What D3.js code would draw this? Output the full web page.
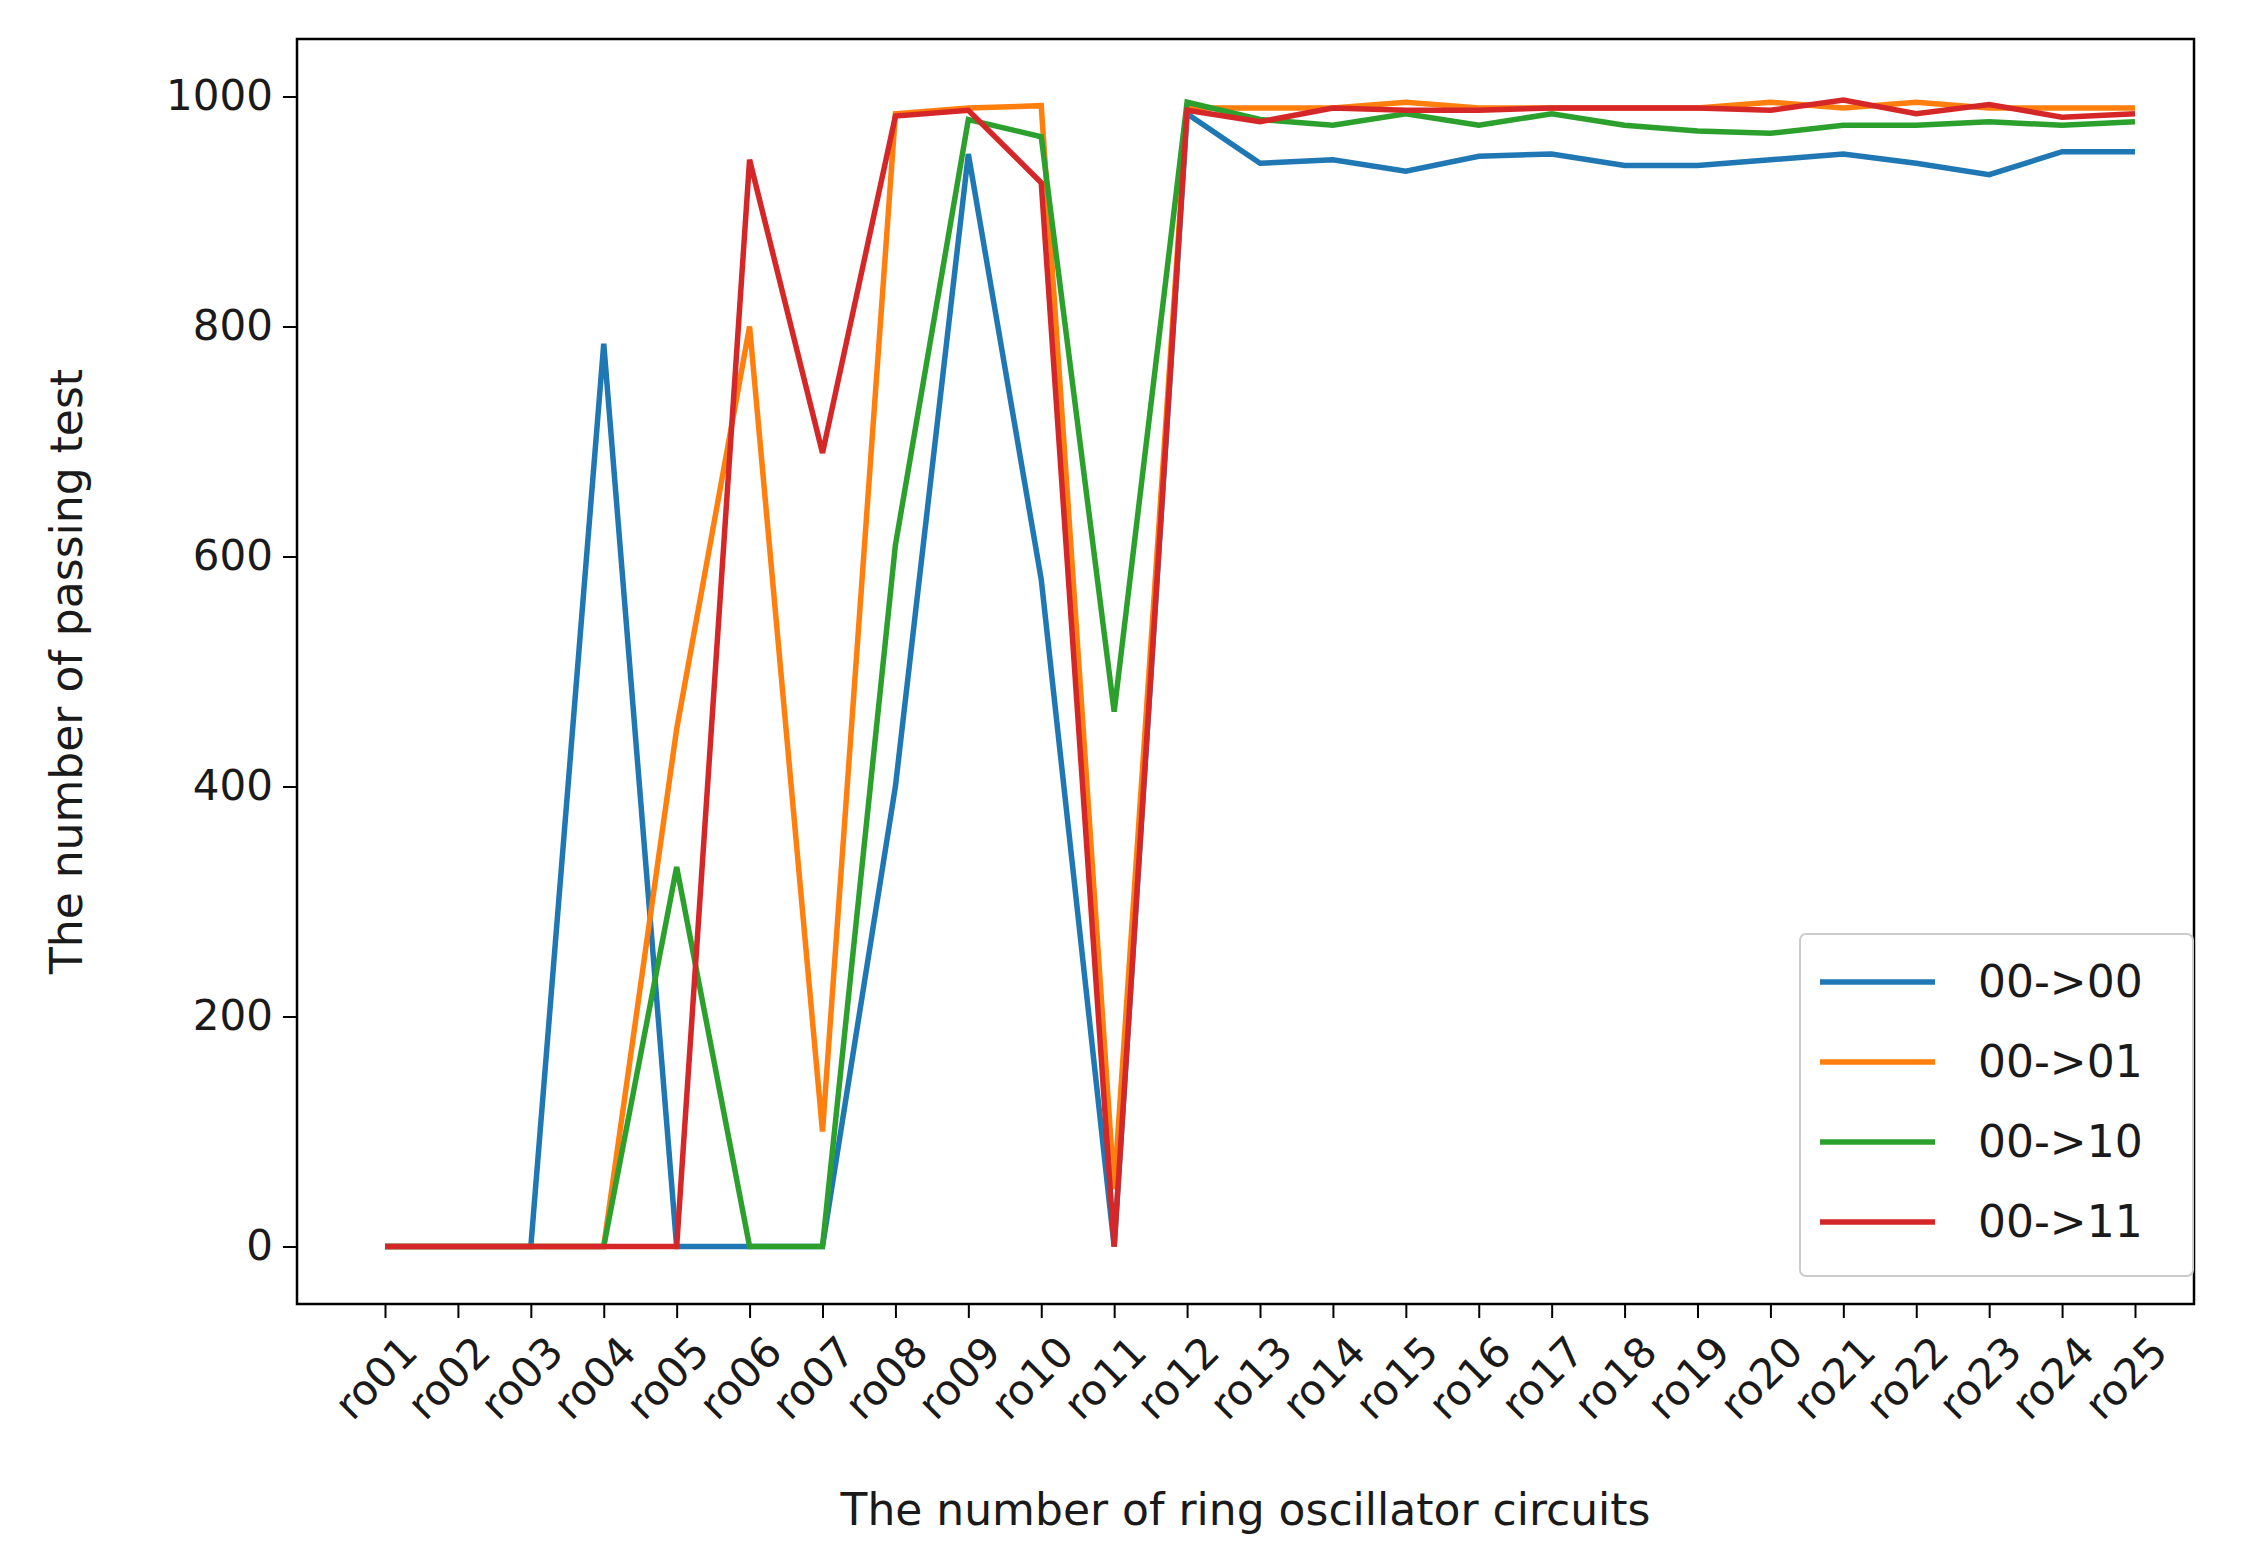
<!DOCTYPE html>
<html><head><meta charset="utf-8">
<script src="https://cdn.jsdelivr.net/npm/d3@7"></script>
<style>body{margin:0;background:#fff}text{font-family:"DejaVu Sans",sans-serif;fill:#1a1a1a}</style>
</head><body><div id="chart"></div>
<script>
const categories = d3.range(1, 26).map(i => 'ro' + String(i).padStart(2, '0'));
const s0000 = [0,0,0,785,0,0,0,400,950,580,0,985,942,945,935,948,950,940,940,945,950,942,932,952,952];
const s0001 = [0,0,0,0,450,800,100,985,990,992,50,990,990,990,995,990,990,990,990,995,990,995,990,990,990];
const s0010 = [0,0,0,0,330,0,0,610,980,965,465,995,980,975,985,975,985,975,970,968,975,975,978,975,978];
const s0011 = [0,0,0,0,0,945,690,983,988,925,0,988,978,990,988,988,990,990,990,988,997,985,993,982,985];
const seriesNames = ['00->00','00->01','00->10','00->11'];
const yTicks = [0,200,400,600,800,1000];

const series = [s0000, s0001, s0010, s0011];
const colors = ['#1f77b4','#ff7f0e','#2ca02c','#d62728'];
const W = 2241, H = 1552;
const m = {left: 297, right: 47, top: 39, bottom: 248};
const svg = d3.select('#chart').append('svg').attr('width', W).attr('height', H);

const x = d3.scalePoint().domain(categories).range([385, 2135]);
const y = d3.scaleLinear().domain([-50, 1050]).range([H - m.bottom, m.top]);

series.forEach((s, k) => {
  svg.append('path')
    .datum(s)
    .attr('fill', 'none')
    .attr('stroke', colors[k])
    .attr('stroke-width', 5.5)
    .attr('d', d3.line().x((d, i) => x(categories[i])).y(d => y(d)));
});

const xAxis = svg.append('g').attr('transform', `translate(0,${H - m.bottom})`)
  .call(d3.axisBottom(x).tickSize(14));
xAxis.select('.domain').remove();
xAxis.selectAll('line').attr('stroke-width', 2);
xAxis.selectAll('text').attr('font-size', 42)
  .attr('x', 0).attr('y', 0).attr('dy', '0.35em')
  .attr('text-anchor', 'end')
  .attr('transform', 'translate(24,40) rotate(-45)');

const yAxis = svg.append('g').attr('transform', `translate(${m.left},0)`)
  .call(d3.axisLeft(y).tickValues(yTicks).tickFormat(d3.format('d')).tickSize(14).tickPadding(10));
yAxis.select('.domain').remove();
yAxis.selectAll('line').attr('stroke-width', 2);
yAxis.selectAll('text').attr('font-size', 42);

svg.append('rect').attr('x', m.left).attr('y', m.top)
  .attr('width', W - m.left - m.right).attr('height', H - m.top - m.bottom)
  .attr('fill', 'none').attr('stroke', '#000').attr('stroke-width', 2.5);

svg.append('text').attr('x', (m.left + W - m.right) / 2).attr('y', 1525)
  .attr('text-anchor', 'middle').attr('font-size', 44).text('The number of ring oscillator circuits');
svg.append('text').attr('transform', `translate(82,${(m.top + H - m.bottom) / 2}) rotate(-90)`)
  .attr('text-anchor', 'middle').attr('font-size', 44).text('The number of passing test');

const lg = svg.append('g').attr('transform', 'translate(1800,934)');
lg.append('rect').attr('width', 393).attr('height', 342).attr('rx', 6)
  .attr('fill', '#fff').attr('stroke', '#ccc').attr('stroke-width', 2);
seriesNames.forEach((n, k) => {
  const yy = 48 + k * 80;
  lg.append('line').attr('x1', 20).attr('x2', 135).attr('y1', yy).attr('y2', yy)
    .attr('stroke', colors[k]).attr('stroke-width', 5.5);
  lg.append('text').attr('x', 178).attr('y', yy).attr('dy', '0.35em')
    .attr('font-size', 44).text(n);
});
</script></body></html>
